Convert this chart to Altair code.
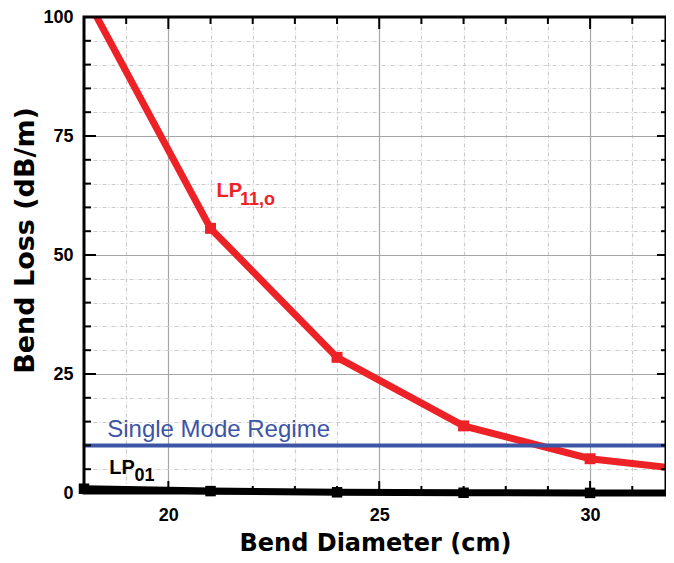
import altair as alt
import pandas as pd

# ---- data ----
diam = [18, 21, 24, 27, 30, 33]
lp11 = [105.0, 55.6, 28.5, 14.1, 7.2, 4.2]
lp01 = [0.9, 0.4, 0.15, 0.05, 0.02, 0.0]
regime_level = [10]
x_ticks = list(range(18, 32))
y_ticks = list(range(0, 101, 5))

W, H = 582, 476
RED = "#ec2227"
BLUE = "#3c55a5"
FONT = "Liberation Sans"
TFONT = "DejaVu Sans"

xs = alt.Scale(domain=[18, 31.8], nice=False, zero=False)
ys = alt.Scale(domain=[0, 100], nice=False, zero=False)

curves = pd.DataFrame({"d": diam, "lp11": lp11, "lp01": lp01})

major_x = "round(datum.value) % 5 === 0"
major_y = "round(datum.value) % 25 === 0"

x_axis = alt.Axis(
    values=x_ticks,
    labelExpr=f"{major_x} ? datum.label : ''",
    labelOverlap=False, labelBound=False, labelFlush=False,
    ticks=False, domain=False, grid=True,
    gridColor={"condition": {"test": major_x, "value": "#a6a6a6"}, "value": "#cccccc"},
    gridDash={"condition": {"test": major_x, "value": []}, "value": [4, 2, 1, 2]},
    gridWidth=1.2,
    labelFont=FONT, labelFontSize=18, labelFontWeight="bold", labelColor="black",
    labelPadding=13,
    title="Bend Diameter (cm)", titleFont=TFONT, titleFontSize=24, titleFontWeight="bold",
    titleColor="black", titleBaseline="alphabetic", titleY=57,
)
y_axis = alt.Axis(
    values=y_ticks,
    labelExpr=f"{major_y} ? datum.label : ''",
    labelOverlap=False, labelBound=False, labelFlush=False,
    ticks=False, domain=False, grid=True,
    gridColor={"condition": {"test": major_y, "value": "#a6a6a6"}, "value": "#cccccc"},
    gridDash={"condition": {"test": major_y, "value": []}, "value": [4, 2, 1, 2]},
    gridWidth=1.2,
    labelFont=FONT, labelFontSize=18, labelFontWeight="bold", labelColor="black",
    labelPadding=11,
    title="Bend Loss (dB/m)", titleFont=TFONT, titleFontSize=27, titleFontWeight="bold",
    titleColor="black", titleBaseline="alphabetic", titleX=-51, titleY=223, titleAlign="center",
)


def X(field):
    return alt.X(field, scale=xs, axis=x_axis)


def Y(field):
    return alt.Y(field, scale=ys, axis=y_axis)


base = alt.Chart(curves)

red_line = base.mark_line(color=RED, strokeWidth=7, clip=True).encode(x=X("d:Q"), y=Y("lp11:Q"))
red_pts = base.mark_square(color=RED, size=120, opacity=1, clip=True).encode(x=X("d:Q"), y=Y("lp11:Q"))
black_line = base.mark_line(color="black", strokeWidth=7).encode(x=X("d:Q"), y=Y("lp01:Q"))
black_pts = base.mark_square(color="black", size=110, opacity=1).encode(x=X("d:Q"), y=Y("lp01:Q"))

blue_rule = alt.Chart(pd.DataFrame({"v": regime_level})).mark_rule(
    color=BLUE, strokeWidth=4
).encode(y=Y("v:Q"))


def label(text, x, y, size, weight, color):
    return alt.Chart(pd.DataFrame({"t": [text], "x": [x], "y": [y]})).mark_text(
        align="left", baseline="alphabetic", font=FONT, fontSize=size,
        fontWeight=weight, color=color,
    ).encode(x=X("x:Q"), y=Y("y:Q"), text="t:N")


texts = [
    label("Single Mode Regime", 18.55, 11.8, 24, "normal", BLUE),
    label("LP", 18.6, 4.0, 20, "bold", "black"),
    label("01", 19.2, 2.5, 18, "bold", "black"),
    label("LP", 21.14, 62.2, 20, "bold", RED),
    label("11,o", 21.7, 60.5, 18, "bold", RED),
]

# inward tick marks on all four sides
xt = pd.DataFrame({"v": x_ticks})
yt = pd.DataFrame({"v": y_ticks})


def xticks(y0, y1, major):
    test = major_x.replace("datum.value", "datum.v")
    if not major:
        test = f"!({test})"
    return alt.Chart(xt).transform_filter(test).mark_rule(color="black", strokeWidth=2).encode(
        x=X("v:Q"), y=alt.value(y0), y2=alt.value(y1)
    )


def yticks(x0, x1, major):
    test = major_y.replace("datum.value", "datum.v")
    if not major:
        test = f"!({test})"
    return alt.Chart(yt).transform_filter(test).mark_rule(color="black", strokeWidth=2).encode(
        y=Y("v:Q"), x=alt.value(x0), x2=alt.value(x1)
    )


ticks = [
    xticks(H, H - 12, True), xticks(H, H - 7, False),
    xticks(0, 12, True), xticks(0, 7, False),
    yticks(0, 12, True), yticks(0, 7, False),
    yticks(W, W - 9, True), yticks(W, W - 5, False),
]

frame = alt.Chart(pd.DataFrame({"a": [0]})).mark_rect(
    fill="transparent", stroke="black", strokeWidth=3
).encode(x=alt.value(0), x2=alt.value(W), y=alt.value(0), y2=alt.value(H))

chart = alt.layer(
    red_line, blue_rule, red_pts, *ticks, frame, black_line, black_pts, *texts
).properties(
    width=W, height=H,
    autosize=alt.AutoSizeParams(type="none"),
    padding={"left": 76, "top": 9, "right": 0, "bottom": 62},
).configure_view(stroke=None)

chart.save("out.html", embed_options={"renderer": "svg", "actions": False})
